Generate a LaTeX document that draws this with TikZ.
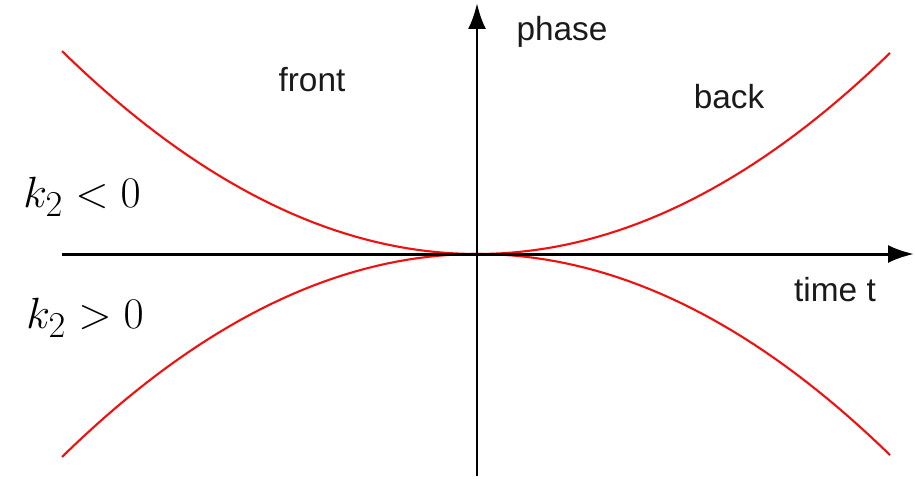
\documentclass[tikz,border=0pt]{standalone}
\usepackage{fontspec}
\setsansfont{Liberation Sans}
\usepackage{tikz}
\usetikzlibrary{arrows.meta,positioning,calc}
\definecolor{ink}{HTML}{000000}
\definecolor{cred}{HTML}{F01010}
\definecolor{ctext}{HTML}{1A1A1A}
\tikzset{
  axis/.style={-{Latex[length=5.2mm,width=3.6mm]}, line width=1.7pt, draw=ink},
  curve/.style={line width=1.2pt, draw=cred},
  lbl/.style={font=\sffamily\fontsize{19}{22}\selectfont, text=ctext, inner sep=0pt},
  mathlbl/.style={font=\fontsize{30}{34}\selectfont, text=ink, inner sep=0pt},
}
\begin{document}
\begin{tikzpicture}[x=0.02cm,y=0.02cm]
  \useasboundingbox (-477,-224) rectangle (438,254);
  \coordinate (o) at (0,0);
  \coordinate (tl) at (-415,0);
  \coordinate (tr) at (437,0);
  \coordinate (pb) at (0,-222);
  \coordinate (pt) at (0,251);
  \draw[curve,domain=-415:413,samples=80] plot (\x,{202*(\x/414)^2});
  \draw[curve,domain=-415:413,samples=80] plot (\x,{-202*(\x/414)^2});
  \draw[axis](tl)--(tr);
  \draw[axis](pb)--(pt);
  \node[lbl](phase) at (85,222){phase};
  \node[lbl](front) at (-165,174){front};
  \node[lbl](back) at (252,157){back};
  \node[lbl](time) at (358,-36){time t};
  \node[mathlbl](neg) at (-395,57){$k_2<0$};
  \node[mathlbl](pos) at (-392,-64){$k_2>0$};
\end{tikzpicture}
\end{document}
